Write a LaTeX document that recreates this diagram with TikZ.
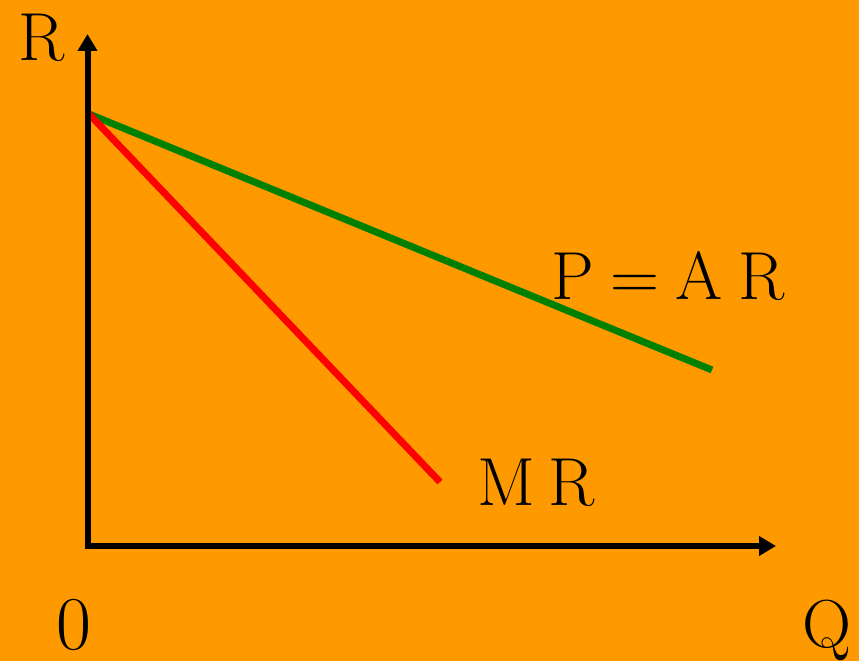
\documentclass[tikz,border=0pt]{standalone}
\usetikzlibrary{arrows.meta}
\definecolor{bgorange}{RGB}{255,153,0}
\definecolor{curvegreen}{RGB}{0,128,0}
\definecolor{curvered}{RGB}{255,0,0}
\tikzset{
  axis/.style={line width=6pt,-{Triangle[length=17pt,width=19pt]}},
  curve/.style={line width=7pt},
  lbl/.style={inner sep=0pt,anchor=base,font=\fontsize{68}{80}\selectfont},
}
\begin{document}
\begin{tikzpicture}[x=1pt,y=-1pt]
\fill[bgorange] (0,0) rectangle (859,661);
\useasboundingbox (0,0) rectangle (859,661);
\coordinate (O) at (87.5,546);
\coordinate (ytop) at (87.5,34);
\coordinate (xend) at (776,546);
\coordinate (A) at (89,114);
\coordinate (gend) at (712,370);
\coordinate (rend) at (440,482);
\draw[curve,curvegreen] (A) -- (gend);
\draw[curve,curvered] (A) -- (rend);
\draw[axis] ([yshift=3pt]O) -- (ytop);
\draw[axis] ([xshift=-3pt]O) -- (xend);
\node[lbl] (lR) at (42,60) {R};
\node[lbl] (lPAR) at (668,299) {P\hspace{0.24em}=\hspace{0.24em}A\hspace{0.24em}R};
\node[lbl] (lMR) at (536,505) {M\hspace{0.2em}R};
\node[lbl,font=\fontsize{76}{90}\selectfont] (l0) at (74,649) {0};
\node[lbl] (lQ) at (827,647) {Q};
\end{tikzpicture}
\end{document}
